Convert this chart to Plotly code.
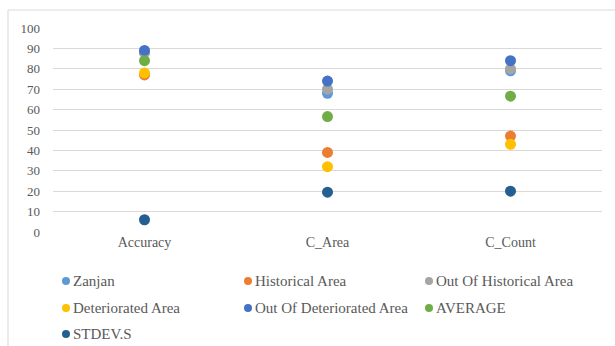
import plotly.graph_objects as go

categories = ["Accuracy", "C_Area", "C_Count"]
series_names = ["Zanjan", "Historical Area", "Out Of Historical Area",
                "Deteriorated Area", "Out Of Deteriorated Area", "AVERAGE", "STDEV.S"]
zanjan = [88, 68, 79]
historical = [77, 39, 47]
out_historical = [88, 70, 80]
deteriorated = [78, 32, 43]
out_deteriorated = [89, 74, 84]
average = [84, 56.6, 66.6]
stdev = [6, 19.5, 20]
y_ticks = list(range(0, 101, 10))

values = [zanjan, historical, out_historical, deteriorated, out_deteriorated, average, stdev]
colors = ["#5B9BD5", "#ED7D31", "#A5A5A5", "#FFC000", "#4472C4", "#70AD47", "#255E91"]

fig = go.Figure()
for name, vals, col in zip(series_names, values, colors):
    fig.add_trace(go.Scatter(x=categories, y=vals, mode="markers", name=name,
                             marker=dict(color=col, size=11, line=dict(width=0))))

W, H = 615, 346
L, R, T, B = 53, 13, 28, 114
pw, ph = W - L - R, H - T - B

def px2paper_x(p):
    return (p - L) / pw

def px2paper_y(p):
    return (H - B - p) / ph

fig.add_shape(type="line", xref="paper", yref="paper",
              x0=px2paper_x(8), x1=px2paper_x(620), y0=px2paper_y(10), y1=px2paper_y(10),
              line=dict(color="#D9D9D9", width=1))
fig.add_shape(type="line", xref="paper", yref="paper",
              x0=px2paper_x(8), x1=px2paper_x(8), y0=px2paper_y(10), y1=px2paper_y(350),
              line=dict(color="#D9D9D9", width=1))

font = "'Liberation Serif', 'DejaVu Serif', 'Times New Roman', serif"

# manual legend (3 columns)
marker_x = [66, 248, 429]
row_y = [281, 308, 334]
for i, (name, col) in enumerate(zip(series_names, colors)):
    r, c = divmod(i, 3)
    cx, cy = marker_x[c], row_y[r]
    fig.add_shape(type="circle", xref="paper", yref="paper",
                  xsizemode="pixel", ysizemode="pixel",
                  xanchor=px2paper_x(cx), yanchor=px2paper_y(cy),
                  x0=-4, x1=4, y0=-4, y1=4,
                  fillcolor=col, line=dict(width=0))
    fig.add_annotation(xref="paper", yref="paper",
                       x=px2paper_x(cx + 5), y=px2paper_y(cy),
                       xanchor="left", yanchor="middle", showarrow=False,
                       text=name,
                       font=dict(family=font, size=15, color="#595959"))

fig.update_layout(
    width=W, height=H,
    margin=dict(l=L, r=R, t=T, b=B, pad=0),
    paper_bgcolor="white", plot_bgcolor="white",
    font=dict(family=font, size=14, color="#595959"),
    xaxis=dict(range=[-0.5, 2.5], showgrid=False, showline=False, zeroline=False, ticks="",
               tickfont=dict(family=font, size=14, color="#595959")),
    yaxis=dict(range=[0, 100], tickvals=y_ticks, showgrid=True, gridcolor="#D9D9D9",
               gridwidth=1, zeroline=False, showline=False, ticks="",
               tickfont=dict(family=font, size=13, color="#595959"), ticklabelstandoff=12),
    showlegend=False,
)
fig.write_html("out.html")
